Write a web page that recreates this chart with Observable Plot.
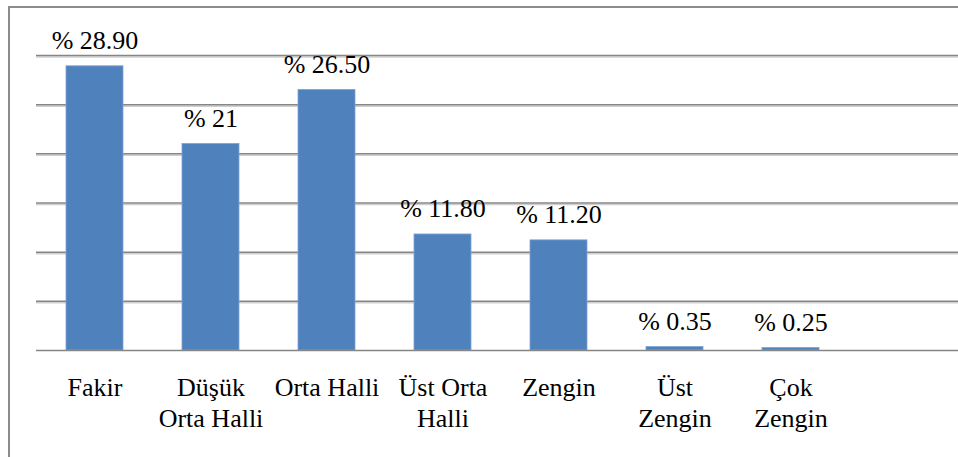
<!DOCTYPE html>
<html>
<head>
<meta charset="utf-8">
<script src="https://cdn.jsdelivr.net/npm/d3@7"></script>
<script src="https://cdn.jsdelivr.net/npm/@observablehq/plot@0.6"></script>
<style>
  html, body { margin: 0; padding: 0; background: #fff; }
  #wrap { position: relative; width: 958px; height: 457px; overflow: hidden; }
  #frame { position: absolute; left: 8px; top: 6px; width: 1000px; height: 500px;
           border-left: 2px solid #8c8c8c; border-top: 2px solid #8c8c8c; box-sizing: border-box; }
  #chart { position: absolute; left: 0; top: 0; }
</style>
</head>
<body>
<div id="wrap"><div id="frame"></div><div id="chart"></div></div>
<script>
const categories = ["Fakir", "Düşük Orta Halli", "Orta Halli", "Üst Orta Halli", "Zengin", "Üst Zengin", "Çok Zengin", ""];
const axisLabels = ["Fakir", "Düşük\nOrta Halli", "Orta Halli", "Üst Orta\nHalli", "Zengin", "Üst\nZengin", "Çok\nZengin", ""];
const values = [28.90, 21, 26.50, 11.80, 11.20, 0.35, 0.25];
const valueLabels = ["% 28.90", "% 21", "% 26.50", "% 11.80", "% 11.20", "% 0.35", "% 0.25"];
const gridValues = [5, 10, 15, 20, 25, 30];

const data = values.map((v, i) => ({cat: categories[i], value: v, label: valueLabels[i]}));
const labelData = categories.map((c, i) => ({cat: c, text: axisLabels[i]}));

const xRange = [36, 964];
const step = (xRange[1] - xRange[0]) / categories.length;
const font = "Liberation Serif";

const plot = Plot.plot({
  width: 958,
  height: 457,
  marginLeft: 36,
  marginRight: 0,
  marginTop: 0,
  marginBottom: 0,
  style: {background: "transparent", overflow: "visible", fontFamily: font},
  x: {domain: categories, range: xRange, paddingInner: 0.51, paddingOuter: 0.255, axis: null},
  y: {domain: [0, 30], range: [350, 55], axis: null},
  marks: [
    Plot.ruleY(gridValues, {stroke: "#cfcfcf", strokeWidth: 1.5, dy: 1.5}),
    Plot.ruleY(gridValues, {stroke: "#868686", strokeWidth: 1.5}),
    Plot.barY(data, {x: "cat", y: "value", fill: "#4f81bd", stroke: "#7da3d3", strokeWidth: 0.8}),
    Plot.ruleY([0], {stroke: "#868686", strokeWidth: 1.5}),
    Plot.axisX({ticks: categories, tickSize: 7, tickFormat: null, label: null, dx: -step / 2, stroke: "#868686", strokeWidth: 1.5}),
    Plot.text(data, {x: "cat", y: "value", text: "label", dy: -17, lineAnchor: "bottom",
      fontSize: 26, fill: "#000", fontFamily: font}),
    Plot.text(labelData, {x: "cat", y: () => 0, text: "text", dy: 23, lineAnchor: "top",
      lineHeight: 1.2, fontSize: 26, fill: "#000", fontFamily: font})
  ]
});
document.getElementById("chart").appendChild(plot);
</script>
</body>
</html>
